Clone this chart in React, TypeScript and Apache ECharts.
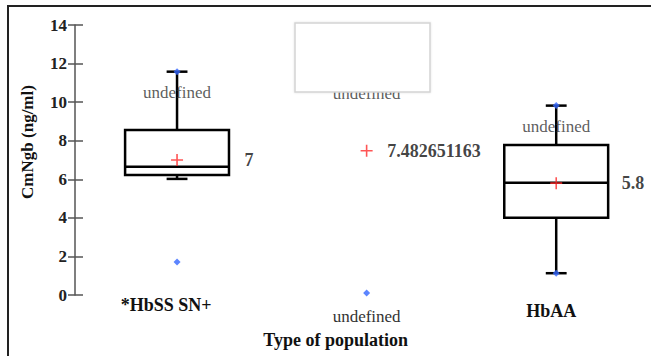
import React, { useEffect, useRef } from "react";
import * as echarts from "echarts";

const categories = ["*HbSS SN+", "undefined", "HbAA"];
const whiskerLow: (number | null)[] = [6.02, null, 1.13];
const q1: (number | null)[] = [6.22, null, 4.01];
const median: (number | null)[] = [6.65, null, 5.82];
const q3: (number | null)[] = [8.56, null, 7.78];
const whiskerHigh: (number | null)[] = [11.58, null, 9.82];
const means = [7, 7.482651163, 5.8];
const maxMarkers: (number | null)[] = [11.58, 11.55, 9.82];
const minMarkers: (number | null)[] = [null, 0.1, 1.13];
const outliers: (number | null)[] = [1.71, null, null];
const yMin = 0;
const yMax = 14;
const yInterval = 2;

const FONT = "Liberation Serif";

export default function App() {
  const ref = useRef<HTMLDivElement>(null);
  useEffect(() => {
    if (!ref.current) return;
    const chart = echarts.init(ref.current, undefined, { renderer: "svg" });

    const boxData = categories
      .map((_, i) =>
        q1[i] == null
          ? null
          : [i, whiskerLow[i], q1[i], median[i], q3[i], whiskerHigh[i]]
      )
      .filter((d) => d != null);

    const meanLabelDist = [59, 12, 57];

    const option: any = {
      animation: false,
      backgroundColor: "#fff",
      textStyle: { fontFamily: FONT },
      grid: { left: 82.25, top: 25, width: 574.5, height: 270 },
      xAxis: {
        type: "category",
        data: categories,
        axisLine: { show: false },
        axisTick: { show: false },
        splitLine: { show: false },
        axisLabel: {
          margin: 1,
          formatter: (v: string, i: number) => `{c${i}|${v}}`,
          rich: {
            c0: { fontFamily: FONT, fontSize: 18, fontWeight: "bold", color: "#111", padding: [0, 22, 0, 0] },
            c1: { fontFamily: FONT, fontSize: 17, fontWeight: "normal", color: "#333", padding: [12, 0, 0, 0] },
            c2: { fontFamily: FONT, fontSize: 18, fontWeight: "bold", color: "#111", padding: [6, 10, 0, 0] },
          },
        },
        name: "Type of population",
        nameLocation: "middle",
        nameGap: 36,
        nameTextStyle: {
          fontFamily: FONT,
          fontSize: 18,
          fontWeight: "bold",
          color: "#111",
          padding: [0, 62, 0, 0],
        },
      },
      yAxis: [
        {
          type: "value",
          min: yMin,
          max: yMax,
          interval: yInterval,
          offset: 7.25,
          splitLine: { show: false },
          axisLine: { show: true, lineStyle: { color: "#555", width: 1.5 } },
          axisTick: { show: true, length: 7, lineStyle: { color: "#555", width: 1.5 } },
          axisLabel: {
            margin: 8,
            fontFamily: FONT,
            fontSize: 17,
            fontWeight: "bold",
            color: "#222",
          },
          name: "CmNgb (ng/ml)",
          nameLocation: "middle",
          nameGap: 39,
          nameRotate: 90,
          nameTextStyle: {
            fontFamily: FONT,
            fontSize: 17,
            fontWeight: "bold",
            color: "#111",
            padding: [0, 0, 0, 36],
          },
        },
        {
          type: "value",
          min: yMin,
          max: yMax,
          interval: yInterval,
          offset: 7.25,
          position: "left",
          splitLine: { show: false },
          axisLine: { show: false },
          axisTick: { show: true, inside: true, length: 8, lineStyle: { color: "#555", width: 1.5 } },
          axisLabel: { show: false },
        },
      ],
      series: [
        {
          type: "custom",
          name: "Box",
          z: 2,
          data: boxData,
          renderItem: (params: any, api: any) => {
            const x = api.value(0);
            const pLo = api.coord([x, api.value(1)]);
            const pQ1 = api.coord([x, api.value(2)]);
            const pMed = api.coord([x, api.value(3)]);
            const pQ3 = api.coord([x, api.value(4)]);
            const pHi = api.coord([x, api.value(5)]);
            const band = api.size([1, 0])[0];
            const bw = band * 0.548;
            const cw = band * 0.11;
            const cx = pLo[0];
            const st = { stroke: "#000", lineWidth: 2.5, fill: "none" };
            return {
              type: "group",
              children: [
                { type: "line", shape: { x1: cx, y1: pHi[1], x2: cx, y2: pQ3[1] }, style: st },
                { type: "line", shape: { x1: cx, y1: pQ1[1], x2: cx, y2: pLo[1] }, style: st },
                { type: "line", shape: { x1: cx - cw / 2, y1: pHi[1], x2: cx + cw / 2, y2: pHi[1] }, style: st },
                { type: "line", shape: { x1: cx - cw / 2, y1: pLo[1], x2: cx + cw / 2, y2: pLo[1] }, style: st },
                {
                  type: "rect",
                  shape: { x: cx - bw / 2, y: pQ3[1], width: bw, height: pQ1[1] - pQ3[1] },
                  style: { stroke: "#000", lineWidth: 2.5, fill: "#fff" },
                },
                { type: "line", shape: { x1: cx - bw / 2, y1: pMed[1], x2: cx + bw / 2, y2: pMed[1] }, style: st },
              ],
            };
          },
        },
        {
          type: "scatter",
          name: "Maximum",
          z: 4,
          symbol: "diamond",
          symbolSize: 7,
          itemStyle: { color: "#3366ff" },
          data: maxMarkers
            .map((v, i) => (v == null ? null : [i, v]))
            .filter((d) => d != null),
          label: {
            show: true,
            position: "bottom",
            distance: 9,
            formatter: () => "undefined",
            fontFamily: FONT,
            fontSize: 17,
            color: "#333",
          },
        },
        {
          type: "scatter",
          name: "Minimum",
          z: 4,
          symbol: "diamond",
          symbolSize: 7,
          itemStyle: { color: "#3366ff" },
          data: minMarkers
            .map((v, i) => (v == null ? null : [i, v]))
            .filter((d) => d != null),
        },
        {
          type: "scatter",
          name: "Outliers",
          z: 4,
          symbol: "diamond",
          symbolSize: 7,
          itemStyle: { color: "#3366ff" },
          data: outliers
            .map((v, i) => (v == null ? null : [i, v]))
            .filter((d) => d != null),
        },
        {
          type: "scatter",
          name: "Mean",
          z: 5,
          symbol: "path://M0,6L12,6M6,0L6,12",
          symbolSize: 12,
          itemStyle: { color: "none", borderColor: "#ff2a2a", borderWidth: 1.6 },
          data: means.map((v, i) => ({
            value: [i, v],
            label: { distance: meanLabelDist[i] },
          })),
          label: {
            show: true,
            position: "right",
            formatter: (p: any) => String(p.value[1]),
            fontFamily: FONT,
            fontSize: 18,
            fontWeight: "bold",
            color: "#111",
          },
        },
      ],
      graphic: [
        {
          type: "rect",
          z: 100,
          shape: { x: 295, y: 23, width: 135, height: 69 },
          style: {
            fill: "#fff",
            stroke: "#d4d4d4",
            lineWidth: 1.5,
            shadowBlur: 2,
            shadowColor: "rgba(0,0,0,0.12)",
          },
        },
        {
          type: "rect",
          z: 100,
          shape: { x: 8, y: 6, width: 700, height: 400 },
          style: { fill: "none", stroke: "#222", lineWidth: 2 },
        },
      ],
    };
    chart.setOption(option);
    return () => chart.dispose();
  }, []);
  return (
    <div
      ref={ref}
      style={{ position: "fixed", left: 0, top: 0, width: 651, height: 356 }}
    />
  );
}
